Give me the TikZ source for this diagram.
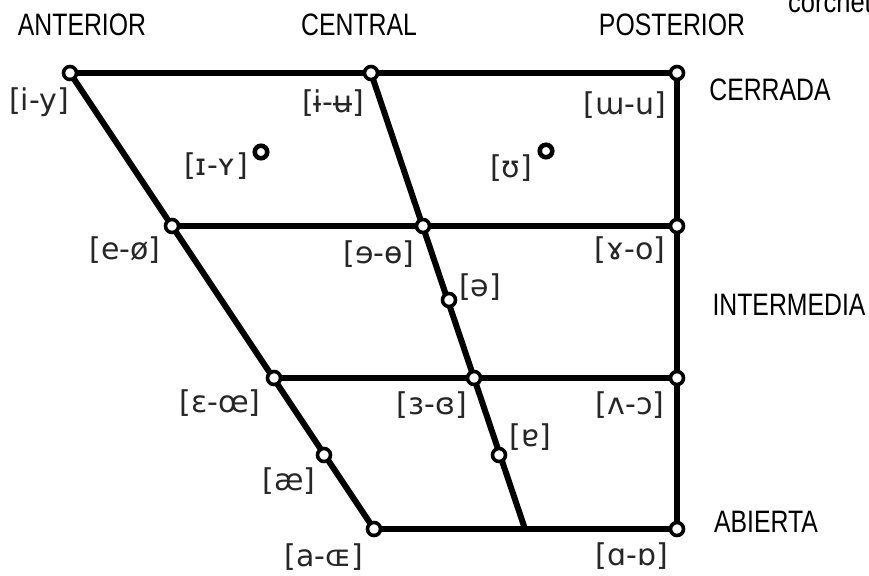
\documentclass[tikz,border=0pt]{standalone}
\usepackage{fontspec}
\setmainfont{DejaVu Sans}
\newfontfamily\ipa{DejaVu Sans}
\newfontfamily\hand[FakeStretch=0.8]{Liberation Sans}
\newfontfamily\handsmall[FakeStretch=0.85]{Liberation Sans}
\begin{document}
\begin{tikzpicture}[x=1pt,y=-1pt,
  edge/.style={line width=6pt},
  pt/.style={circle,draw=black,fill=white,line width=3.6pt,minimum size=13pt,inner sep=0pt},
  lab/.style={font=\ipa\fontsize{30}{32}\selectfont,inner sep=0pt,text=black!85},
  head/.style={font=\hand\fontsize{31}{33}\selectfont,inner sep=0pt},
  ring/.style={circle,draw=black,line width=4.6pt,minimum size=12.5pt,inner sep=0pt}]
\clip (0,0) rectangle (869,575);
\useasboundingbox (0,0) rectangle (869,575);
% corner and row points
\coordinate (tl) at (70,73);
\coordinate (tc) at (371,73);
\coordinate (tr) at (677,73);
\coordinate (m1l) at (172,226);
\coordinate (m1c) at (423,226);
\coordinate (m1r) at (677,226);
\coordinate (m2l) at (274,378);
\coordinate (m2c) at (474,378);
\coordinate (m2r) at (677,378);
\coordinate (bl) at (374,529);
\coordinate (bc) at (525,529);
\coordinate (br) at (677,529);
\coordinate (schwa) at (449,300);
\coordinate (aturn) at (499,455);
\coordinate (ae) at (324,455);
% lines
\draw[edge] (tl) -- (tr);
\draw[edge] (m1l) -- (m1r);
\draw[edge] (m2l) -- (m2r);
\draw[edge] (bl) -- (br);
\draw[edge] (tl) -- (bl);
\draw[edge] (tc) -- (bc);
\draw[edge] (tr) -- (br);
% circles
\foreach \p in {tl,tc,tr,m1l,m1c,m1r,m2l,m2c,m2r,bl,br,schwa,aturn,ae}
  \node[pt] (c-\p) at (\p) {};
% headings
\node[head] (hant) at (82,25) {ANTERIOR};
\node[head] (hcen) at (359,25) {CENTRAL};
\node[head] (hpos) at (672,25) {POSTERIOR};
\node[head] (hcer) at (770,90) {CERRADA};
\node[head] (hint) at (789,305) {INTERMEDIA};
\node[head] (habi) at (766,522) {ABIERTA};
\node[font=\handsmall\fontsize{30}{32}\selectfont,inner sep=0pt,anchor=base west] (hcor) at (788,13) {corchetes};
% vowel labels
\node[lab] (iy) at (39,102) {[i-y]};
\node[lab] (iu) at (333,103) {[ɨ-ʉ]};
\node[lab] (wu) at (625,105) {[ɯ-u]};
\node[lab] (IY) at (216,166) {[ɪ-ʏ]};
\node[ring] (r1) at (261,152) {};
\node[lab] (U) at (511,168) {[ʊ]};
\node[ring] (r2) at (546,151) {};
\node[lab] (eo) at (125,250) {[e-ø]};
\node[lab] (ee) at (379,254) {[ɘ-ɵ]};
\node[lab] (go) at (630,250) {[ɤ-o]};
\node[lab] (sc) at (480,287) {[ə]};
\node[lab] (Eoe) at (220,403) {[ɛ-œ]};
\node[lab] (3B) at (432,405) {[ɜ-ɞ]};
\node[lab] (vc) at (630,405) {[ʌ-ɔ]};
\node[lab] (ta) at (530,437) {[ɐ]};
\node[lab] (aelab) at (289,481) {[æ]};
\node[lab] (aOE) at (324,557) {[a-ɶ]};
\node[lab] (AD) at (632,556) {[ɑ-ɒ]};
\end{tikzpicture}
\end{document}
